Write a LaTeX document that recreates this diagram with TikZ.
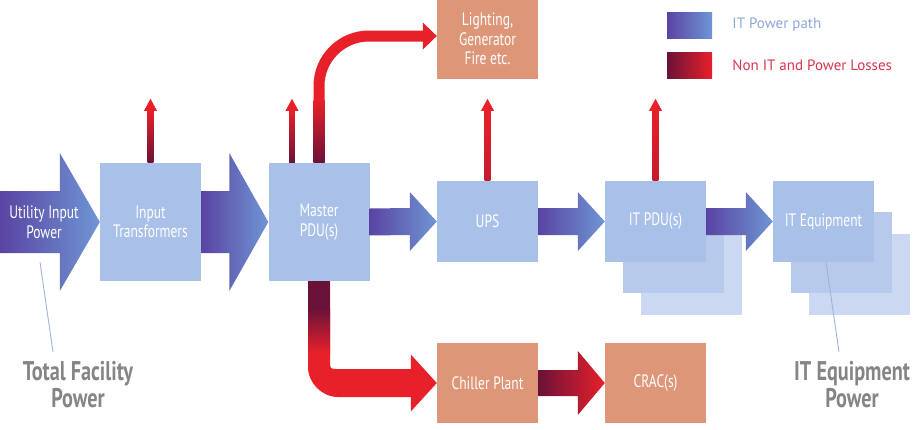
\documentclass[tikz,border=0pt]{standalone}
\usepackage{fontspec}
\setmainfont{PT Sans}
\newfontfamily\boxfont[FakeStretch=0.75]{PT Sans}
\usetikzlibrary{calc}
\definecolor{boxblue}{HTML}{A9C0E8}
\definecolor{shadowA}{HTML}{B7CAEC}
\definecolor{shadowB}{HTML}{CAD8F1}
\definecolor{salmon}{HTML}{DE9679}
\definecolor{maroon}{HTML}{6A1238}
\definecolor{lossred}{HTML}{E8202A}
\definecolor{pathpurple}{HTML}{5A44A2}
\definecolor{pathblue}{HTML}{6F95D4}
\definecolor{labgray}{HTML}{858585}
\definecolor{legblue}{HTML}{8EA8D8}
\definecolor{legred}{HTML}{D8344D}
\definecolor{leadercol}{HTML}{9DB4DE}
\tikzset{
  itbox/.style={fill=boxblue, minimum width=101pt, minimum height=118pt, inner sep=0pt,
    text=white, font=\boxfont\fontsize{18}{19.5}\selectfont, align=center},
  smallbox/.style={itbox, minimum height=81pt},
  lossbox/.style={smallbox, fill=salmon},
  itflow/.style={shade, left color=pathpurple, right color=pathblue},
  lossflow/.style={shade, left color=maroon, right color=lossred},
  legsq/.style={shade, minimum width=45pt, minimum height=26pt, inner sep=0pt},
  legtext/.style={font=\fontsize{15}{17}\selectfont, anchor=west, inner sep=0pt},
  biglab/.style={text=labgray, font=\boxfont\bfseries\fontsize{27}{27}\selectfont, align=center, inner sep=0pt},
  leader/.style={draw=leadercol, line width=0.9pt}
}
\newcommand\fatarr[6]{%
  \path[#6] ($(#1)+(0,-#3)$) -- ($(#2)+(-#5,-#3)$) -- ($(#2)+(-#5,-#4)$) -- (#2)
    -- ($(#2)+(-#5,#4)$) -- ($(#2)+(-#5,#3)$) -- ($(#1)+(0,#3)$) -- cycle;}
\newcommand\lossup[3]{%
  \shade[top color=lossred, bottom color=#3] ($(#1)+(-2.8,0)$) rectangle ($(#1)+(2.8,-#2+11)$);
  \fill[lossred] ($(#1)+(0,-#2)$) -- ($(#1)+(6.5,-#2+12)$) -- ($(#1)+(-6.5,-#2+12)$) -- cycle;}
\begin{document}
\begin{tikzpicture}[x=1pt,y=-1pt]
\useasboundingbox[fill=white] (0,0) rectangle (921,429);

% boxes
\node[itbox] (trans) at (150.5,222) {Input\\Transformers};
\node[itbox] (master) at (319,222) {Master\\PDU(s)};
\node[smallbox] (ups) at (487.5,221.5) {UPS};
\node[smallbox, fill=shadowB] (itpdu3) at (691.5,274) {};
\node[smallbox, fill=shadowA] (itpdu2) at (673.5,252.5) {};
\node[smallbox] (itpdu) at (655.5,221.5) {IT PDU(s)};
\node[smallbox, fill=shadowB] (iteq3) at (859.5,274) {};
\node[smallbox, fill=shadowA] (iteq2) at (841.5,252.5) {};
\node[smallbox] (iteq) at (823.5,221.5) {IT Equipment};
\node[lossbox, minimum height=80pt] (light) at (487.5,39) {Lighting,\\Generator\\Fire etc.};
\node[lossbox, minimum height=80pt] (chiller) at (487.5,383) {Chiller Plant};
\node[lossbox, minimum height=80pt] (crac) at (655.5,383) {CRAC(s)};

% IT power path arrows
\coordinate (src) at (0,222);
\fatarr{src}{trans.west}{31}{69}{40}{itflow}
\fatarr{trans.east}{master.west}{31}{69}{39}{itflow}
\fatarr{master.east}{ups.west}{13.5}{29.5}{27}{itflow}
\fatarr{ups.east}{itpdu.west}{13.5}{29.5}{27}{itflow}
\fatarr{itpdu.east}{iteq.west}{13.5}{29.5}{27}{itflow}
\node[text=white, font=\boxfont\fontsize{18}{19.5}\selectfont, align=center, inner sep=0pt] (utxt) at (44,222) {Utility Input\\Power};

% loss arrows
\fatarr{chiller.east}{crac.west}{13}{32}{27}{lossflow}
\coordinate (mup) at ($(master.north)+(-27,0)$);
\lossup{trans.north}{64}{maroon}
\lossup{mup}{64}{maroon}
\lossup{ups.north}{82}{lossred!70!maroon}
\lossup{itpdu.north}{82}{lossred!70!maroon}

% curved arrow to lighting
\draw[lossred, line width=11pt, rounded corners=50pt] (master.north) -- ($(master.north |- light.west)+(0,-3)$) -- ($(light.west)+(-13,-3)$);
\fill[lossred] ($(light.west)+(0,-3)$) -- ($(light.west)+(-14,-16.5)$) -- ($(light.west)+(-14,10.5)$) -- cycle;
\shade[top color=lossred, bottom color=maroon] ($(master.north)+(-5.5,0)$) rectangle ($(master.north)+(5.5,-62)$);

% curved arrow to chiller
\coordinate (mb) at (master.south);
\coordinate (cw) at (chiller.west);
\coordinate (corner) at (mb |- cw);
\path[save path=\chillpath] ($(mb)+(-11,0)$) -- ($(corner)+(-11,-16)$)
  .. controls ($(corner)+(-11,0)$) and ($(corner)+(3,14)$) .. ($(corner)+(19,14)$)
  -- ($(cw)+(-26,14)$) -- ($(cw)+(-26,28.5)$) -- (cw) -- ($(cw)+(-26,-28.5)$)
  -- ($(cw)+(-26,-14)$) -- ($(corner)+(19,-14)$)
  .. controls ($(corner)+(11,-14)$) .. ($(corner)+(11,-22)$) -- ($(mb)+(11,0)$) -- cycle;
\begin{scope}
  \clip[use path=\chillpath];
  \fill[lossred] ($(mb)+(-15,-2)$) rectangle ($(cw)+(2,35)$);
  \fill[maroon] ($(mb)+(-12,-1)$) rectangle ($(mb)+(12,28)$);
  \shade[top color=maroon, bottom color=lossred] ($(mb)+(-12,27.5)$) rectangle ($(mb)+(12,72)$);
\end{scope}

% legend
\node[legsq, left color=pathpurple, right color=pathblue] (lg1) at (689.5,25) {};
\node[legsq, left color=maroon, right color=lossred] (lg2) at (689.5,65.5) {};
\node[legtext, text=legblue] (lg1t) at ($(lg1.east)+(20,0)$) {IT Power path};
\node[legtext, text=legred] (lg2t) at ($(lg2.east)+(20,0)$) {Non IT and Power Losses};

% bottom labels
\node[biglab] (tfp) at (78,385) {Total Facility\\Power};
\node[biglab] (itp) at (852,385) {IT Equipment\\Power};
\coordinate (tfpA) at (40,262);
\coordinate (tfpB) at (53,352);
\coordinate (itpA) at ($(iteq.south)+(2.5,0)$);
\coordinate (itpB) at (839,352);
\draw[leader] (tfpA) -- (tfpB);
\draw[leader] (itpA) -- (itpB);
\end{tikzpicture}
\end{document}
